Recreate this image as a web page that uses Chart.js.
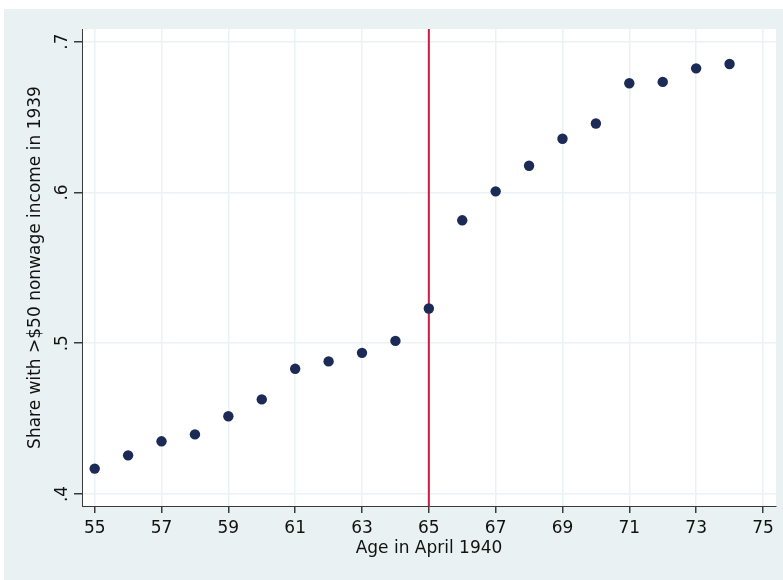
<!DOCTYPE html>
<html>
<head>
<meta charset="utf-8">
<script src="https://cdn.jsdelivr.net/npm/chart.js@4.4.1/dist/chart.umd.min.js"></script>
<style>
  html, body { margin: 0; padding: 0; background: #ffffff; }
  #wrap { width: 783px; height: 580px; }
</style>
</head>
<body>
<div id="wrap"><canvas id="mainChart" width="783" height="580"></canvas></div>
<script>
// ages and share with >$50 nonwage income
const ages = [55, 56, 57, 58, 59, 60, 61, 62, 63, 64, 65, 66, 67, 68, 69, 70, 71, 72, 73, 74];
const shares = [0.4168, 0.4256, 0.4349, 0.4395, 0.4515, 0.4627, 0.4830, 0.4879, 0.4936, 0.5015,
                0.5230, 0.5815, 0.6007, 0.6177, 0.6356, 0.6457, 0.6724, 0.6733, 0.6823, 0.6852];
const xTicks = [55, 57, 59, 61, 63, 65, 67, 69, 71, 73, 75];
const yTicks = [0.4, 0.5, 0.6, 0.7];
const cutoffAge = 65;

const BG = '#e9f1f3';
const GRID = '#eaf2f3';
const AXIS = '#3a3a3a';
const FONT = "'DejaVu Sans', sans-serif";

// fondo gris-azulado y area blanca del grafico
const fondo = {
    id: 'fondo',
    beforeDraw(chart) {
        const c = chart.ctx, a = chart.chartArea;
        c.save();
        c.fillStyle = '#ffffff';
        c.fillRect(0, 0, chart.width, chart.height);
        c.fillStyle = BG;
        c.fillRect(4, 9, chart.width - 4, chart.height - 9);
        c.fillStyle = '#ffffff';
        c.fillRect(a.left, a.top, a.right - a.left, a.bottom - a.top);
        c.restore();
    }
};

// linea vertical en 65
const corte = {
    id: 'corte',
    beforeDatasetsDraw(chart) {
        const c = chart.ctx, a = chart.chartArea;
        const x = chart.scales.x.getPixelForValue(cutoffAge);
        c.save();
        c.strokeStyle = '#c81e45';
        c.lineWidth = 2;
        c.beginPath();
        c.moveTo(x, a.top);
        c.lineTo(x, a.bottom);
        c.stroke();
        c.restore();
    }
};

const puntos = ages.map((a, i) => ({ x: a, y: shares[i] }));

new Chart(document.getElementById('mainChart'), {
    type: 'scatter',
    data: {
        datasets: [{
            data: puntos,
            backgroundColor: '#1c2b55',
            borderColor: '#1c2b55',
            borderWidth: 0,
            pointRadius: 5.2
        }]
    },
    options: {
        responsive: false,
        animation: false,
        layout: { padding: { top: 29, right: 7, left: 0, bottom: 0 } },
        plugins: { legend: { display: false }, tooltip: { enabled: false } },
        scales: {
            x: {
                type: 'linear',
                min: 54.62,
                max: 75.39,
                afterBuildTicks: s => { s.ticks = xTicks.map(v => ({ value: v })); },
                afterFit: s => { s.height = 74; },
                grid: { color: GRID, lineWidth: 1.5, tickColor: AXIS, tickLength: 7, drawTicks: true },
                border: { color: AXIS, width: 1 },
                ticks: {
                    color: '#111', padding: 5, maxRotation: 0,
                    font: { family: FONT, size: 17 },
                    callback: v => String(v)
                },
                title: {
                    display: true, text: 'Age in April 1940', color: '#111',
                    font: { family: FONT, size: 17 },
                    padding: { top: 0, bottom: 21 }
                }
            },
            y: {
                type: 'linear',
                min: 0.392,
                max: 0.7084,
                afterBuildTicks: s => { s.ticks = yTicks.map(v => ({ value: v })); },
                afterFit: s => { s.width = 82; },
                grid: { color: GRID, lineWidth: 1.5, tickColor: AXIS, tickLength: 8, drawTicks: true },
                border: { color: AXIS, width: 1 },
                ticks: {
                    color: '#111', padding: 3, minRotation: 90, maxRotation: 90,
                    crossAlign: 'center',
                    font: { family: FONT, size: 17 },
                    callback: v => String(Math.round(v * 10) / 10).replace(/^0/, '')
                },
                title: {
                    display: true, text: 'Share with >$50 nonwage income in 1939', color: '#111',
                    font: { family: FONT, size: 17 },
                    padding: { top: 25, bottom: 0 }
                }
            }
        }
    },
    plugins: [fondo, corte]
});
</script>
</body>
</html>
